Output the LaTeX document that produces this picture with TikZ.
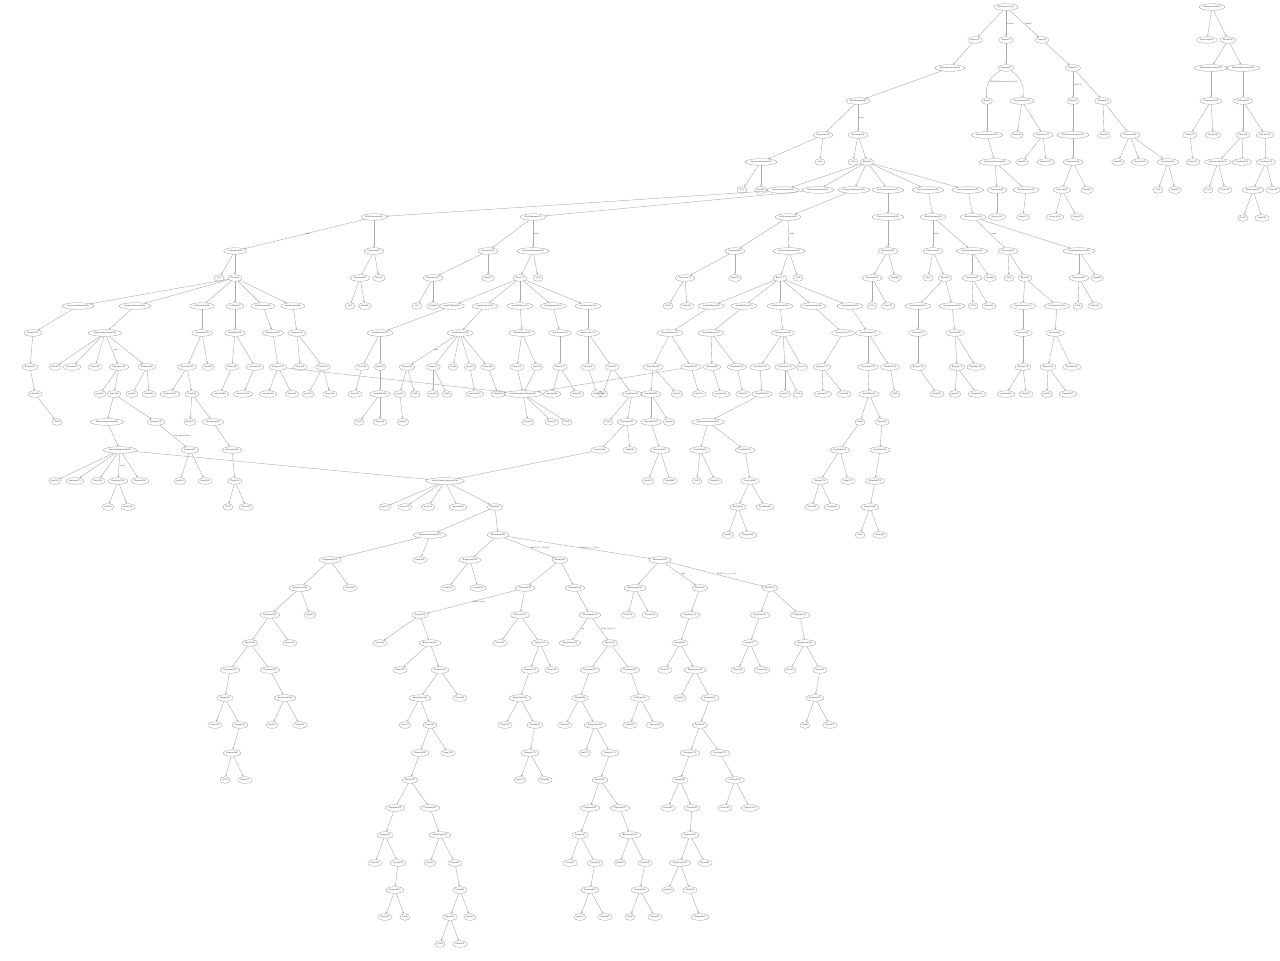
\documentclass[tikz,border=0pt]{standalone}
\usepackage{fontspec}
\setmainfont{Liberation Serif}
\usetikzlibrary{shapes.geometric,arrows.meta}
\tikzset{
 nd/.style={ellipse, draw=black!42, line width=0.15pt, inner xsep=0.3pt, inner ysep=0pt, minimum height=3.3pt, minimum width=5pt, font=\fontsize{1.05}{1.2}\selectfont, text=black!85},
 ed/.style={draw=black!33, line width=0.2pt, -{Stealth[length=1.1pt,width=0.9pt]}},
 lb/.style={font=\fontsize{1.05}{1.2}\selectfont, text=black!80, inner sep=0.6pt}
}
\newcommand\mkR[3]{\node[nd] (n#1x#2) at (#1,#2) {#3};}
\newcommand\mkN[3]{\node[nd] (n#1x#2) at (#1,#2) {#3};}
\newcommand\mkT[5]{\node[nd] (n#3x#4) at (#3,#4) {#5};\draw[ed] (n#1x#2) -- (n#3x#4);}
\newcommand\mkL[6]{\node[nd] (n#3x#4) at (#3,#4) {#5};\draw[ed] (n#1x#2) -- node[lb,right]{#6} (n#3x#4);}
\newcommand\mkX[4]{\draw[ed] (n#1x#2) -- (n#3x#4);}
\begin{document}
\begin{tikzpicture}[x=0.5pt,y=-0.5pt]
\fill[white] (0,0) rectangle (1280,960);
\useasboundingbox (0,0) rectangle (1280,960);
% ---------- main tree ----------
\mkR{1006}{7}{NamespaceDecl(1)}
\mkT{1006}{7}{975}{40}{Imports(2)}
\mkL{1006}{7}{1006}{40}{Actions(3)}{actions}
\mkL{1006}{7}{1042}{40}{Guards(4)}{guards}
\mkT{975}{40}{950}{68}{ExpressionStatement(5)}
\mkT{1006}{40}{1006}{68}{Element(6)}
\mkT{1042}{40}{1073}{68}{Element(7)}
\mkT{950}{68}{858}{101}{BlockStatement(8)}
\mkN{987}{101}{Args(9)}
\draw[ed] (n1006x68) to[bend right=35] node[lb,right,pos=0.5]{Block(i7 Nee action (s) (in (s)))} (n987x101);
\mkN{1022}{101}{ExpressionList(10)}
\draw[ed] (n1006x68) to[bend left=35] (n1022x101);
\mkL{1073}{68}{1073}{101}{Expr(11)}{Bin(i7 1)}
\mkT{1073}{68}{1103}{101}{Element(12)}
\mkT{858}{101}{823}{135}{Expression(13)}
\mkL{858}{101}{858}{135}{Statements(14)}{body}
\mkT{987}{101}{987}{135}{ExpressionStatement(15)}
\mkT{1022}{101}{1017}{135}{Ident(16)}
\mkT{1022}{101}{1043}{135}{Expression(17)}
\mkT{1073}{101}{1073}{135}{ExpressionStatement(18)}
\mkT{1103}{101}{1104}{135}{Ident(19)}
\mkT{1103}{101}{1130}{135}{Expression(20)}
% row 162
\mkT{823}{135}{761}{162}{ExpressionStatement(21)}
\mkT{823}{135}{820}{162}{1(22)}
\mkT{858}{135}{853}{162}{1(23)}
\mkT{858}{135}{867}{162}{Block(24)}
\mkT{987}{135}{995}{162}{ExpressionStatement(25)}
\mkT{1043}{135}{1022}{162}{Ident(26)}
\mkT{1043}{135}{1046}{162}{IdentList(27)}
\mkT{1073}{135}{1073}{162}{Expression(28)}
\mkT{1130}{135}{1118}{162}{Ident(29)}
\mkT{1130}{135}{1140}{162}{IdentList(30)}
\mkT{1130}{135}{1168}{162}{ArrayLiteral(31)}
% row 190
\mkT{761}{162}{742}{190}{1(32)}
\mkT{761}{162}{761}{190}{Ident(33)}
\mkT{867}{162}{783}{190}{ExpressionStatement(34)}
\mkT{867}{162}{818}{190}{ExpressionStatement(35)}
\mkT{867}{162}{854}{190}{ExpressionStatement(36)}
\mkT{867}{162}{888}{190}{ExpressionStatement(37)}
\mkT{867}{162}{928}{190}{ExpressionStatement(38)}
\mkT{867}{162}{968}{190}{ExpressionStatement(39)}
\mkT{995}{162}{997}{190}{Expression(40)}
\mkT{995}{162}{1026}{190}{BlockStatement(41)}
\mkT{1073}{162}{1062}{190}{ExprList(42)}
\mkT{1073}{162}{1087}{190}{Ident(43)}
\mkT{1168}{162}{1158}{190}{1(44)}
\mkT{1168}{162}{1175}{190}{Ident(45)}
% row 217
\mkT{783}{190}{374}{217}{WhileStatement(46)}
\mkT{818}{190}{533}{217}{WhileStatement(47)}
\mkT{854}{190}{788}{217}{WhileStatement(48)}
\mkT{888}{190}{888}{217}{ExpressionStatement(49)}
\mkT{928}{190}{933}{217}{WhileStatement(50)}
\mkT{968}{190}{973}{217}{WhileStatement(51)}
\mkT{997}{190}{997}{217}{ArrayLit(52)}
\mkT{1026}{190}{1023}{217}{Ident(53)}
\mkT{1062}{190}{1055}{217}{ArrayLit(54)}
\mkT{1062}{190}{1077}{217}{Ident(55)}
% row 251
\mkL{374}{217}{235}{251}{ForStatement(56)}{body}
\mkT{374}{217}{374}{251}{Expression(57)}
\mkT{533}{217}{488}{251}{Expression(58)}
\mkL{533}{217}{533}{251}{ExpressionStatement(59)}{body}
\mkT{788}{217}{735}{251}{Expression(60)}
\mkL{788}{217}{789}{251}{ExpressionStatement(61)}{body}
\mkT{888}{217}{888}{251}{Expression(62)}
\mkL{933}{217}{933}{251}{Expression(63)}{body}
\mkT{933}{217}{972}{251}{ExpressionStatement(64)}
\mkL{973}{217}{1008}{251}{Expression(65)}{body}
\mkT{973}{217}{1079}{251}{ExpressionStatement(66)}
% row 278
\mkT{235}{251}{219}{278}{1(67)}
\mkT{235}{251}{235}{278}{Block(68)}
\mkT{374}{251}{360}{278}{Expression(69)}
\mkT{374}{251}{379}{278}{Ident(70)}
\mkT{488}{251}{433}{278}{Expression(71)}
\mkT{488}{251}{488}{278}{Ident(72)}
\mkT{533}{251}{520}{278}{Block(73)}
\mkT{533}{251}{538}{278}{1(74)}
\mkT{735}{251}{685}{278}{Expression(75)}
\mkT{735}{251}{735}{278}{Ident(76)}
\mkT{789}{251}{780}{278}{Block(77)}
\mkT{789}{251}{798}{278}{1(78)}
\mkT{888}{251}{872}{278}{Expression(79)}
\mkT{888}{251}{895}{278}{Ident(80)}
\mkT{933}{251}{928}{278}{1(81)}
\mkT{933}{251}{945}{278}{Block(82)}
\mkT{972}{251}{972}{278}{Expression(83)}
\mkT{972}{251}{990}{278}{Ident(84)}
\mkT{1008}{251}{1009}{278}{1(85)}
\mkT{1008}{251}{1025}{278}{Block(86)}
\mkT{1079}{251}{1079}{278}{Expression(87)}
\mkT{1079}{251}{1097}{278}{Ident(88)}
% row 306
\mkT{235}{278}{78}{306}{ExpressionStatement(89)}
\mkT{235}{278}{135}{306}{ExpressionStatement(90)}
\mkT{235}{278}{202}{306}{CallExpression(91)}
\mkT{235}{278}{235}{306}{CallExpr(92)}
\mkT{235}{278}{263}{306}{ExprStatement(93)}
\mkT{235}{278}{293}{306}{ExprStatement(94)}
\mkT{360}{278}{350}{306}{1(95)}
\mkT{360}{278}{365}{306}{Ident(96)}
\mkT{433}{278}{417}{306}{1(97)}
\mkT{433}{278}{433}{306}{Ident(98)}
\mkT{520}{278}{452}{306}{ArrayHdlrExpr(99)}
\mkT{520}{278}{485}{306}{ExprStatement(100)}
\mkT{520}{278}{520}{306}{ArrayHdlrExpr(101)}
\mkT{520}{278}{553}{306}{ExprStatement(102)}
\mkT{520}{278}{588}{306}{ExprStatement(103)}
\mkT{685}{278}{668}{306}{1(104)}
\mkT{685}{278}{687}{306}{Ident(105)}
\mkT{780}{278}{711}{306}{ArrayHdlrExpr(106)}
\mkT{780}{278}{744}{306}{ArrayHdlrExpr(107)}
\mkT{780}{278}{780}{306}{ExprStatement(108)}
\mkT{780}{278}{813}{306}{ExprStatement(109)}
\mkT{780}{278}{850}{306}{ExprStatement(110)}
\mkT{872}{278}{872}{306}{1(111)}
\mkT{872}{278}{888}{306}{Ident(112)}
\mkT{945}{278}{918}{306}{ExprStatement(113)}
\mkT{945}{278}{952}{306}{ExprStatement(114)}
\mkT{972}{278}{973}{306}{1(115)}
\mkT{972}{278}{989}{306}{Ident(116)}
\mkT{1025}{278}{1023}{306}{ExprStatement(117)}
\mkT{1025}{278}{1057}{306}{ExprStatement(118)}
\mkT{1079}{278}{1078}{306}{1(119)}
\mkT{1079}{278}{1095}{306}{Ident(120)}
% row 333
\mkT{78}{306}{33}{333}{Element(121)}
\mkT{135}{306}{105}{333}{ExpressionStatement(122)}
\mkT{202}{306}{202}{333}{ArrayHdlr(123)}
\mkT{235}{306}{235}{333}{ArrayHdlr(124)}
\mkT{263}{306}{273}{333}{Expression(125)}
\mkT{293}{306}{297}{333}{Element(126)}
\mkT{452}{306}{380}{333}{ArrayHdlrExpr(127)}
\mkT{485}{306}{460}{333}{ArrayHdlrExpr(128)}
\mkT{520}{306}{522}{333}{ArrayHdlrExpr(129)}
\mkT{553}{306}{560}{333}{ArrayLiteral(130)}
\mkT{588}{306}{588}{333}{ArrayLiteral(131)}
\mkT{711}{306}{670}{333}{ArrayHdlrExpr(132)}
\mkT{744}{306}{711}{333}{ArrayHdlrExpr(133)}
\mkT{780}{306}{783}{333}{ArrayLiteral(134)}
\mkT{813}{306}{843}{333}{ArrayLiteral(135)}
\mkT{850}{306}{868}{333}{ArrayElement(136)}
\mkT{918}{306}{918}{333}{ArrayLit(137)}
\mkT{952}{306}{955}{333}{ArrayLit(138)}
\mkT{1023}{306}{1023}{333}{ArrayLit(139)}
\mkT{1057}{306}{1055}{333}{ArrayLit(140)}
% row 367
\mkT{33}{333}{30}{367}{BinOp(141)}
\mkT{105}{333}{55}{367}{pos(142)}
\mkT{105}{333}{72}{367}{position(143)}
\mkT{105}{333}{95}{367}{Ident(144)}
\mkL{105}{333}{119}{367}{ExprState(145)}{body}
\mkT{105}{333}{147}{367}{Element(146)}
\mkT{202}{333}{187}{367}{ExprCall(147)}
\mkT{202}{333}{208}{367}{pos(148)}
\mkT{235}{333}{232}{367}{Ident(149)}
\mkT{235}{333}{255}{367}{position(150)}
\mkT{273}{333}{278}{367}{Element(151)}
\mkT{297}{333}{300}{367}{Ident(152)}
\mkT{297}{333}{323}{367}{Elem(153)}
\mkT{380}{333}{362}{367}{Ident(154)}
\mkT{380}{333}{380}{367}{pos(155)}
\mkL{460}{333}{407}{367}{Binop(156)}{args}
\mkT{460}{333}{433}{367}{Elem(157)}
\mkT{460}{333}{453}{367}{1(158)}
\mkT{460}{333}{470}{367}{pos(159)}
\mkT{460}{333}{488}{367}{Ident(160)}
\mkT{522}{333}{517}{367}{Ident(161)}
\mkT{522}{333}{537}{367}{pos(162)}
\mkT{560}{333}{560}{367}{Elem(163)}
\mkT{588}{333}{588}{367}{Ident(164)}
\mkT{588}{333}{612}{367}{Ident(165)}
\mkT{670}{333}{653}{367}{ArrayHdlr(166)}
\mkT{670}{333}{691}{367}{ArrayHdlr(167)}
\mkT{711}{333}{712}{367}{position(168)}
\mkT{711}{333}{737}{367}{ExprStmt(169)}
\mkT{783}{333}{760}{367}{ArrayHdlr(170)}
\mkT{783}{333}{785}{367}{ArrayHdlr(171)}
\mkT{783}{333}{802}{367}{pos(172)}
\mkT{843}{333}{822}{367}{position(173)}
\mkT{868}{333}{868}{367}{ArrayHdlr(174)}
\mkT{868}{333}{890}{367}{ElemRef(175)}
\mkT{918}{333}{918}{367}{BinOp(176)}
\mkT{955}{333}{957}{367}{BinOp(177)}
\mkT{955}{333}{976}{367}{ExprBlk(178)}
\mkT{1023}{333}{1023}{367}{BinOp(179)}
\mkT{1055}{333}{1048}{367}{BinOp(180)}
\mkT{1055}{333}{1072}{367}{ExprBlk(181)}
% row 394
\mkT{30}{367}{35}{394}{Ident(182)}
\mkT{119}{367}{100}{394}{pos(183)}
\mkT{119}{367}{114}{394}{ident(184)}
\mkT{147}{367}{132}{394}{pos(185)}
\mkT{147}{367}{149}{394}{Ident(186)}
\mkT{187}{367}{170}{394}{BinaryOp(187)}
\mkT{187}{367}{192}{394}{Expr(188)}
\mkT{232}{367}{220}{394}{position(189)}
\mkT{255}{367}{243}{394}{Identifier(190)}
\mkT{278}{367}{268}{394}{position(191)}
\mkT{278}{367}{292}{394}{ident(192)}
\mkT{323}{367}{308}{394}{pos(193)}
\mkT{323}{367}{330}{394}{ident(194)}
\mkT{362}{367}{355}{394}{ident(195)}
\mkT{380}{367}{380}{394}{ArrayHdlr(196)}
\mkT{407}{367}{400}{394}{pos(197)}
\mkT{407}{367}{415}{394}{1(198)}
\mkT{433}{367}{433}{394}{pos(199)}
\mkT{433}{367}{447}{394}{1(200)}
\mkT{470}{367}{475}{394}{position(201)}
\mkT{488}{367}{498}{394}{Ident(202)}
\mkT{517}{367}{523}{394}{ArrayElementListInArray(203)}
\mkX{537}{367}{523}{394}
\mkX{278}{367}{523}{394}
\mkT{560}{367}{552}{394}{position(204)}
\mkT{560}{367}{577}{394}{ident(205)}
\mkT{588}{367}{597}{394}{pos(206)}
\mkT{612}{367}{603}{394}{1(207)}
\mkT{612}{367}{632}{394}{ExprStmt(208)}
\mkT{653}{367}{651}{394}{ArrayHdlr(209)}
\mkT{653}{367}{677}{394}{pos(210)}
\mkT{691}{367}{699}{394}{Ident(211)}
\mkX{691}{367}{523}{394}
\mkT{712}{367}{721}{394}{position(212)}
\mkT{737}{367}{743}{394}{Ident(213)}
\mkT{760}{367}{762}{394}{ArrayHdlr(214)}
\mkT{785}{367}{785}{394}{pos(215)}
\mkT{785}{367}{798}{394}{1(216)}
\mkT{822}{367}{823}{394}{position(217)}
\mkT{822}{367}{844}{394}{Ident(218)}
\mkT{868}{367}{869}{394}{ArrayHdlr(219)}
\mkT{890}{367}{895}{394}{1(220)}
\mkT{918}{367}{937}{394}{Ident(221)}
\mkT{957}{367}{955}{394}{pos(222)}
\mkT{957}{367}{977}{394}{Element(223)}
\mkT{1023}{367}{1006}{394}{position(224)}
\mkT{1023}{367}{1026}{394}{Ident(225)}
\mkT{1048}{367}{1047}{394}{pos(226)}
\mkT{1048}{367}{1068}{394}{Element(227)}
% row 422
\mkT{35}{394}{57}{422}{1(228)}
\mkT{114}{394}{107}{422}{ExpressionStatement(229)}
\mkT{114}{394}{156}{422}{Element(230)}
\mkT{192}{394}{190}{422}{pos(231)}
\mkT{192}{394}{213}{422}{Expression(232)}
\mkT{380}{394}{359}{422}{1(233)}
\mkT{380}{394}{380}{422}{ident(234)}
\mkT{400}{394}{403}{422}{pos(235)}
\mkT{523}{394}{528}{422}{pos(236)}
\mkT{523}{394}{552}{422}{ident(237)}
\mkT{523}{394}{567}{422}{1(238)}
\mkT{632}{394}{608}{422}{1(239)}
\mkT{632}{394}{627}{422}{ExprStmt(240)}
\mkT{651}{394}{651}{422}{ArrayHdlr(241)}
\mkT{651}{394}{669}{422}{pos(242)}
\mkT{762}{394}{708}{422}{ExpressionStatement(243)}
\mkT{869}{394}{860}{422}{1(244)}
\mkT{869}{394}{882}{422}{Ident(245)}
% row 450
\mkT{107}{422}{120}{450}{ExpressionStatement(246)}
\mkL{156}{422}{190}{450}{Element(247)}{Expr in(s) to Binar}
\mkT{213}{422}{232}{450}{BinaryOp(248)}
\mkT{627}{422}{600}{450}{ArrayLit(249)}
\mkT{627}{422}{630}{450}{Ident(250)}
\mkT{651}{422}{660}{450}{BinaryOp(251)}
\mkT{708}{422}{700}{450}{ArrayHdlr(252)}
\mkT{708}{422}{745}{450}{ExprStmt(253)}
\mkT{860}{422}{840}{450}{ExprStmt(255)}
\mkT{882}{422}{880}{450}{ArrayHdlr(254)}
% row 481
\mkT{120}{450}{55}{481}{pos(256)}
\mkT{120}{450}{75}{481}{position(257)}
\mkT{120}{450}{98}{481}{Ident(258)}
\mkL{120}{450}{118}{481}{ExprState(259)}{body}
\mkT{120}{450}{140}{481}{Element(260)}
\mkT{190}{450}{180}{481}{pos(261)}
\mkT{190}{450}{205}{481}{Ident(262)}
\mkT{232}{450}{235}{481}{Expr(263)}
\mkT{120}{450}{445}{481}{ArrayElementListInArray(264)}
\mkX{600}{450}{445}{481}
\mkT{660}{450}{648}{481}{pos(265)}
\mkT{660}{450}{670}{481}{Ident(266)}
\mkT{700}{450}{697}{481}{1(267)}
\mkT{700}{450}{715}{481}{Ident(268)}
\mkT{745}{450}{750}{481}{ArrayLit(269)}
\mkT{840}{450}{820}{481}{Assign(270)}
\mkT{840}{450}{848}{481}{Ident(271)}
\mkT{880}{450}{875}{481}{ElemRef(272)}
% row 507
\mkT{118}{481}{108}{507}{pos(273)}
\mkT{118}{481}{128}{507}{ident(274)}
\mkT{235}{481}{228}{507}{1(275)}
\mkT{235}{481}{246}{507}{Ident(276)}
\mkT{445}{481}{385}{507}{pos(277)}
\mkT{445}{481}{405}{507}{ident(278)}
\mkT{445}{481}{428}{507}{type(279)}
\mkT{445}{481}{458}{507}{position(280)}
\mkT{445}{481}{495}{507}{Block(281)}
\mkT{750}{481}{738}{507}{BinOp(282)}
\mkT{750}{481}{765}{507}{ExprBlk(283)}
\mkT{820}{481}{812}{507}{Ident(284)}
\mkT{820}{481}{832}{507}{Literal(285)}
\mkT{875}{481}{870}{507}{Element(286)}
% row 535
\mkT{495}{507}{430}{535}{ExpressionStatement(287)}
\mkT{495}{507}{498}{535}{IfStatement(288)}
\mkT{738}{507}{728}{535}{pos(289)}
\mkT{738}{507}{748}{535}{Element(290)}
\mkT{870}{507}{860}{535}{1(291)}
\mkT{870}{507}{880}{535}{Ident(292)}
% row 560
\mkT{430}{535}{330}{560}{Assignment(293)}
\mkT{430}{535}{420}{560}{Ident(294)}
\mkT{498}{535}{470}{560}{BinaryExpr(295)}
\mkL{498}{535}{560}{560}{Block(296)}{Bin(2:1): x < 10 (x-2)}
\mkL{498}{535}{660}{560}{IfStatement(297)}{Bin(2:1): x >= y (y-1)}
% row 588
\mkT{330}{560}{300}{588}{BinaryExpr(299)}
\mkT{330}{560}{350}{588}{Ident(300)}
\mkT{470}{560}{448}{588}{Ident(301)}
\mkT{470}{560}{478}{588}{Literal(302)}
\mkT{560}{560}{525}{588}{ExprStmt(303)}
\mkT{560}{560}{575}{588}{ExprStmt(304)}
\mkT{660}{560}{635}{588}{BinaryExpr(305)}
\mkL{660}{560}{700}{588}{Block(306)}{then}
\mkL{660}{560}{770}{588}{Block(307)}{Bin(2:1): y < x + 1 (x)}
% row 615
\mkT{300}{588}{270}{615}{ExprStmt(308)}
\mkT{300}{588}{310}{615}{pos(309)}
\mkL{525}{588}{420}{615}{Assign(310)}{Bin(2:1) x (x)}
\mkT{525}{588}{520}{615}{CallExpr(311)}
\mkT{575}{588}{590}{615}{IfStatement(312)}
\mkT{635}{588}{628}{615}{Ident(313)}
\mkT{635}{588}{650}{615}{Literal(314)}
\mkT{700}{588}{690}{615}{ExprStmt(315)}
\mkT{770}{588}{760}{615}{ExprStmt(316)}
\mkT{770}{588}{800}{615}{ExprStmt(317)}
% row 643
\mkT{270}{615}{250}{643}{Block(318)}
\mkT{270}{615}{290}{643}{ident(319)}
\mkT{420}{615}{380}{643}{Ident(320)}
\mkT{420}{615}{430}{643}{BinaryExpr(321)}
\mkT{520}{615}{500}{643}{Ident(322)}
\mkT{520}{615}{540}{643}{ArgList(323)}
\mkL{590}{615}{570}{643}{BinaryExpr(324)}{test}
\mkL{590}{615}{610}{643}{Block(325)}{Bin(2:1) y (x-1)}
\mkT{690}{615}{680}{643}{Assign(326)}
\mkT{760}{615}{750}{643}{Assign(327)}
\mkT{800}{615}{805}{643}{BinaryExpr(328)}
% row 670
\mkT{250}{643}{230}{670}{ExprStmt(329)}
\mkT{250}{643}{270}{670}{ExprStmt(330)}
\mkT{430}{643}{400}{670}{Ident(331)}
\mkT{430}{643}{440}{670}{Element(332)}
\mkT{540}{643}{530}{670}{Element(333)}
\mkT{540}{643}{552}{670}{Ident(334)}
\mkT{610}{643}{590}{670}{ExprStmt(335)}
\mkT{610}{643}{630}{670}{ExprStmt(336)}
\mkT{680}{643}{665}{670}{Ident(337)}
\mkT{680}{643}{695}{670}{BinaryExpr(338)}
\mkT{750}{643}{738}{670}{Ident(339)}
\mkT{750}{643}{762}{670}{Literal(340)}
\mkT{805}{643}{790}{670}{pos(341)}
\mkT{805}{643}{820}{670}{Ident(342)}
% row 698
\mkT{230}{670}{225}{698}{Assign(343)}
\mkT{270}{670}{285}{698}{BinaryExpr(344)}
\mkT{440}{670}{420}{698}{BinaryExpr(345)}
\mkT{440}{670}{460}{698}{Ident(346)}
\mkT{530}{670}{520}{698}{BinaryExpr(347)}
\mkT{590}{670}{580}{698}{Assign(348)}
\mkT{630}{670}{640}{698}{CallExpr(349)}
\mkT{695}{670}{680}{698}{pos(350)}
\mkT{695}{670}{710}{698}{Element(351)}
\mkT{820}{670}{815}{698}{Element(352)}
% row 725
\mkT{225}{698}{215}{725}{Ident(353)}
\mkT{225}{698}{240}{725}{Literal(354)}
\mkT{285}{698}{272}{725}{pos(355)}
\mkT{285}{698}{300}{725}{Ident(356)}
\mkT{420}{698}{405}{725}{pos(357)}
\mkT{420}{698}{430}{725}{Expr(358)}
\mkT{520}{698}{505}{725}{Ident(359)}
\mkT{520}{698}{535}{725}{Literal(360)}
\mkT{580}{698}{565}{725}{Ident(361)}
\mkT{580}{698}{595}{725}{BinaryExpr(362)}
\mkT{640}{698}{630}{725}{Ident(363)}
\mkT{640}{698}{655}{725}{ArgList(364)}
\mkT{710}{698}{700}{725}{Block(365)}
\mkT{815}{698}{805}{725}{1(366)}
\mkT{815}{698}{830}{725}{Ident(367)}
% row 753
\mkT{240}{725}{232}{753}{Element(368)}
\mkT{430}{725}{420}{753}{Element(369)}
\mkT{430}{725}{448}{753}{Ident(370)}
\mkT{535}{725}{530}{753}{Element(371)}
\mkT{595}{725}{585}{753}{pos(372)}
\mkT{595}{725}{610}{753}{Element(373)}
\mkT{700}{725}{690}{753}{ExprStmt(374)}
\mkT{700}{725}{720}{753}{ExprStmt(375)}
% row 780
\mkT{232}{753}{225}{780}{1(376)}
\mkT{232}{753}{245}{780}{Ident(377)}
\mkT{420}{753}{410}{780}{Block(378)}
\mkT{530}{753}{520}{780}{pos(379)}
\mkT{530}{753}{545}{780}{Ident(380)}
\mkT{610}{753}{600}{780}{Block(381)}
\mkT{690}{753}{680}{780}{Assign(382)}
\mkT{720}{753}{735}{780}{CallExpr(383)}
% row 808
\mkT{410}{780}{395}{808}{ExprStmt(384)}
\mkT{410}{780}{430}{808}{ExprStmt(385)}
\mkT{600}{780}{590}{808}{ExprStmt(386)}
\mkT{600}{780}{620}{808}{ExprStmt(387)}
\mkT{680}{780}{668}{808}{Ident(388)}
\mkT{680}{780}{692}{808}{Literal(389)}
\mkT{735}{780}{725}{808}{Ident(390)}
\mkT{735}{780}{750}{808}{ArgList(391)}
% row 835
\mkT{395}{808}{385}{835}{Assign(392)}
\mkT{430}{808}{440}{835}{BinaryExpr(393)}
\mkT{590}{808}{580}{835}{Assign(394)}
\mkT{620}{808}{630}{835}{BinaryExpr(395)}
\mkT{692}{808}{690}{835}{Element(396)}
% row 863
\mkT{385}{835}{375}{863}{Ident(397)}
\mkT{385}{835}{398}{863}{Literal(398)}
\mkT{440}{835}{430}{863}{pos(399)}
\mkT{440}{835}{455}{863}{Ident(400)}
\mkT{580}{835}{570}{863}{Ident(401)}
\mkT{580}{835}{595}{863}{Literal(402)}
\mkT{630}{835}{620}{863}{pos(403)}
\mkT{630}{835}{645}{863}{Ident(404)}
\mkT{690}{835}{680}{863}{BinaryExpr(405)}
\mkT{690}{835}{705}{863}{Ident(406)}
% row 890
\mkT{398}{863}{395}{890}{Element(407)}
\mkT{455}{863}{460}{890}{Ident(408)}
\mkT{595}{863}{590}{890}{Element(409)}
\mkT{645}{863}{640}{890}{Element(410)}
\mkT{680}{863}{668}{890}{pos(411)}
\mkT{680}{863}{690}{890}{Ident(412)}
% row 917
\mkT{395}{890}{385}{917}{Ident(413)}
\mkT{395}{890}{405}{917}{1(414)}
\mkT{460}{890}{450}{917}{Ident(415)}
\mkT{460}{890}{470}{917}{pos(416)}
\mkT{590}{890}{580}{917}{pos(417)}
\mkT{590}{890}{605}{917}{Ident(418)}
\mkT{640}{890}{630}{917}{1(419)}
\mkT{640}{890}{655}{917}{Ident(420)}
\mkT{690}{890}{700}{917}{Element(421)}
% row 944
\mkT{450}{917}{440}{944}{1(422)}
\mkT{450}{917}{460}{944}{Ident(423)}
% ---------- second tree ----------
\mkR{1212}{7}{NamespaceLib(500)}
\mkT{1212}{7}{1207}{40}{ImportList(501)}
\mkT{1212}{7}{1228}{40}{Block(502)}
\mkT{1228}{40}{1211}{68}{ExpressionStatement(503)}
\mkT{1228}{40}{1243}{68}{ExpressionStatement(504)}
\mkT{1211}{68}{1211}{101}{Assignment(505)}
\mkT{1243}{68}{1243}{101}{CallExpr(506)}
\mkT{1211}{101}{1190}{135}{Ident(507)}
\mkT{1211}{101}{1213}{135}{Literal(508)}
\mkT{1243}{101}{1243}{135}{Ident(509)}
\mkT{1243}{101}{1265}{135}{ArgList(510)}
\mkT{1190}{135}{1193}{162}{Expr(511)}
\mkT{1243}{135}{1218}{162}{ExpressionStmt(512)}
\mkT{1243}{135}{1242}{162}{ExprStmt(513)}
\mkT{1265}{135}{1266}{162}{ExprStmt(514)}
\mkT{1218}{162}{1208}{190}{1(515)}
\mkT{1218}{162}{1225}{190}{Ident(516)}
\mkT{1266}{162}{1253}{190}{BinaryExpr(517)}
\mkT{1266}{162}{1273}{190}{Ident(518)}
\mkT{1253}{190}{1243}{218}{1(519)}
\mkT{1253}{190}{1262}{218}{Ident(520)}
\end{tikzpicture}
\end{document}
